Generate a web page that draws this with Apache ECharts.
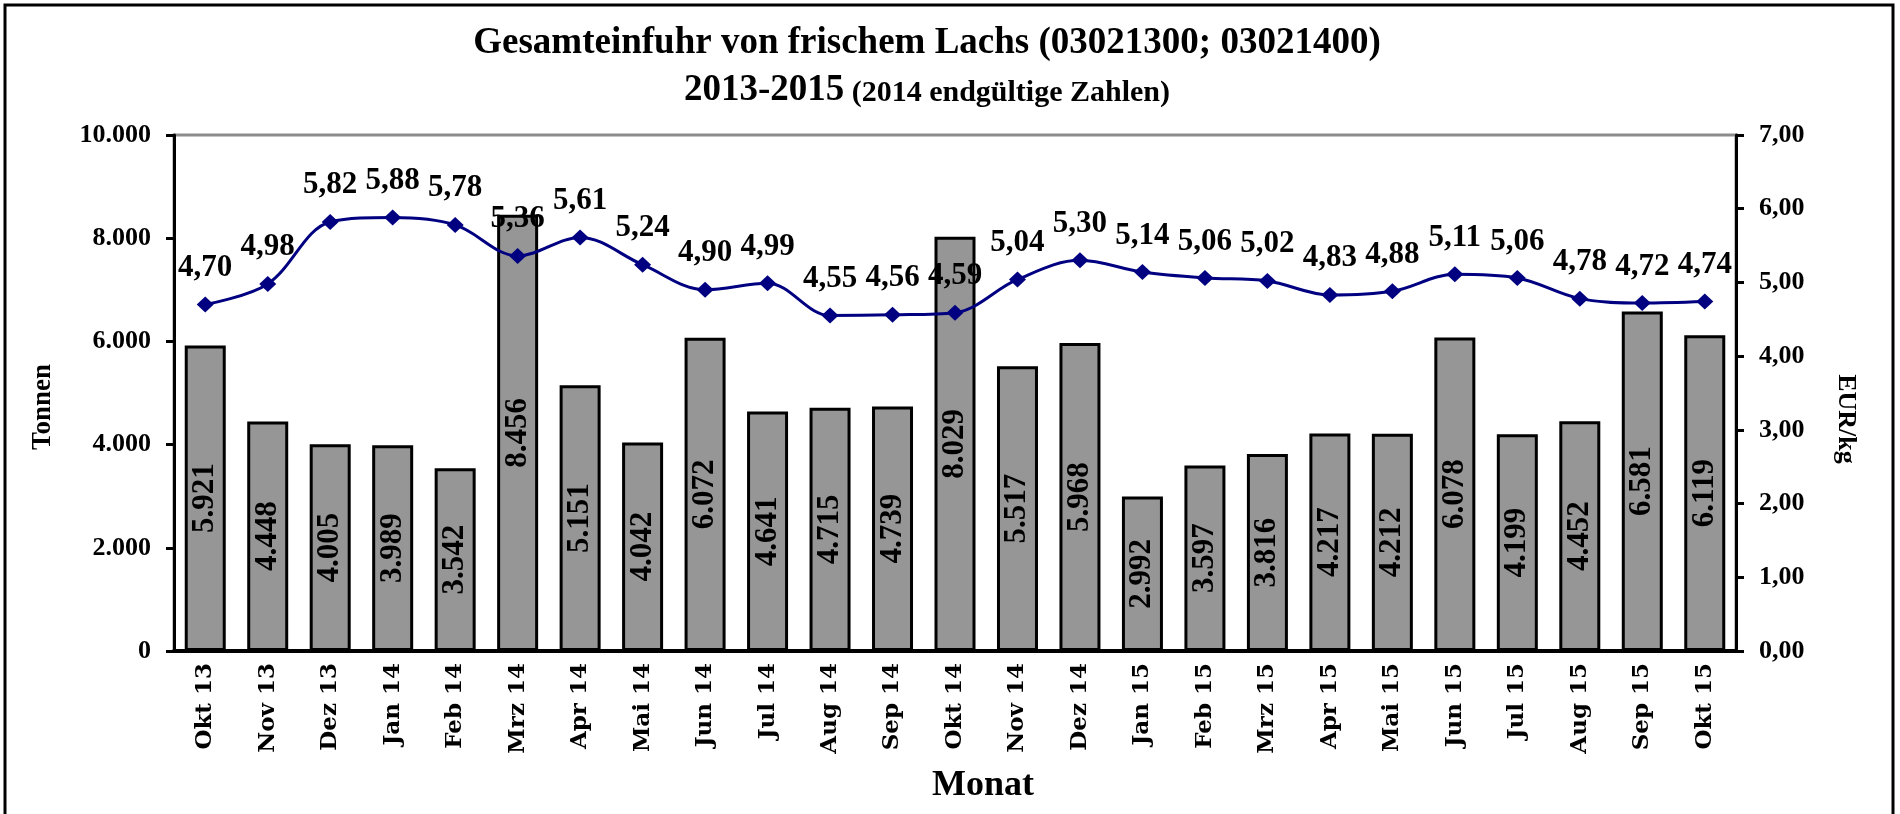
<!DOCTYPE html>
<html>
<head>
<meta charset="utf-8">
<title>Gesamteinfuhr von frischem Lachs</title>
<script src="https://cdn.jsdelivr.net/npm/echarts@6/dist/echarts.min.js"></script>
<style>
  html, body { margin: 0; padding: 0; background: #fff; }
  #chart { width: 1900px; height: 814px; }
</style>
</head>
<body>
<div id="chart"></div>
<script>
// Monate Okt 13 - Okt 15
var monate = ['Okt 13', 'Nov 13', 'Dez 13', 'Jan 14', 'Feb 14', 'Mrz 14', 'Apr 14', 'Mai 14', 'Jun 14', 'Jul 14', 'Aug 14', 'Sep 14', 'Okt 14', 'Nov 14', 'Dez 14', 'Jan 15', 'Feb 15', 'Mrz 15', 'Apr 15', 'Mai 15', 'Jun 15', 'Jul 15', 'Aug 15', 'Sep 15', 'Okt 15'];
// Einfuhr in Tonnen (Balken)
var tonnen = [5921, 4448, 4005, 3989, 3542, 8456, 5151, 4042, 6072, 4641, 4715, 4739, 8029, 5517, 5968, 2992, 3597, 3816, 4217, 4212, 6078, 4199, 4452, 6581, 6119];
// Preis in EUR/kg (Linie)
var preis = [4.70, 4.98, 5.82, 5.88, 5.78, 5.36, 5.61, 5.24, 4.90, 4.99, 4.55, 4.56, 4.59, 5.04, 5.30, 5.14, 5.06, 5.02, 4.83, 4.88, 5.11, 5.06, 4.78, 4.72, 4.74];

var serif = '"Liberation Serif", "Times New Roman", serif';

// 5921 -> "5.921"
function tausend(v) {
  return String(v).replace(/\B(?=(\d{3})+(?!\d))/g, '.');
}
// 4.7 -> "4,70"
function komma(v) {
  return Number(v).toFixed(2).replace('.', ',');
}

var chart = echarts.init(document.getElementById('chart'), null, { renderer: 'canvas' });

chart.setOption({
  animation: false,
  backgroundColor: '#fff',
  textStyle: { fontFamily: serif },
  graphic: [
    {
      type: 'rect',
      shape: { x: 5, y: 5, width: 1888, height: 830 },
      style: { fill: 'none', stroke: '#000', lineWidth: 3 },
      silent: true
    },
    {
      type: 'text',
      x: 927, y: 43,
      style: {
        text: 'Gesamteinfuhr von frischem Lachs (03021300; 03021400)',
        font: 'bold 37px ' + serif,
        fill: '#000',
        align: 'center',
        verticalAlign: 'middle'
      }
    },
    {
      type: 'text',
      x: 927, y: 90,
      style: {
        text: '{a|2013-2015} {b|(2014 endgültige Zahlen)}',
        align: 'center',
        verticalAlign: 'middle',
        rich: {
          a: { font: 'bold 37px ' + serif, fill: '#000', verticalAlign: 'bottom' },
          b: { font: 'bold 30px ' + serif, fill: '#000', verticalAlign: 'bottom', padding: [0, 0, 0, 4] }
        }
      }
    }
  ],
  grid: {
    left: 174,
    right: 164,
    top: 135,
    bottom: 163,
    show: true,
    borderColor: '#8c8c8c',
    borderWidth: 3,
    backgroundColor: 'transparent'
  },
  xAxis: {
    type: 'category',
    data: monate,
    name: 'Monat',
    nameLocation: 'middle',
    nameGap: 117,
    nameTextStyle: { fontFamily: serif, fontWeight: 'bold', fontSize: 36, color: '#000', padding: [0, 0, 0, 56] },
    axisLine: { lineStyle: { color: '#000', width: 4 } },
    axisTick: { show: false },
    axisLabel: {
      rotate: 90,
      margin: 12,
      interval: 0,
      fontFamily: '"DejaVu Serif", serif',
      fontWeight: 'bold',
      fontSize: 23,
      color: '#000'
    }
  },
  yAxis: [
    {
      type: 'value',
      min: 0,
      max: 10000,
      interval: 2000,
      name: 'Tonnen',
      nameLocation: 'middle',
      nameGap: 117,
      nameTextStyle: { fontFamily: serif, fontWeight: 'bold', fontSize: 27, color: '#000', padding: [0, 28, 0, 0] },
      axisLine: { show: true, lineStyle: { color: '#000', width: 3 } },
      axisTick: { show: true, length: 8, lineStyle: { color: '#000', width: 3 } },
      axisLabel: {
        margin: 23,
        fontFamily: serif,
        fontWeight: 'bold',
        fontSize: 26,
        color: '#000',
        formatter: function (v) { return tausend(v); }
      },
      splitLine: { show: false }
    },
    {
      type: 'value',
      min: 0,
      max: 7,
      interval: 1,
      position: 'right',
      name: 'EUR/kg',
      nameLocation: 'middle',
      nameGap: 97,
      nameRotate: -90,
      nameTextStyle: { fontFamily: serif, fontWeight: 'bold', fontSize: 26, color: '#000', padding: [0, 0, 0, 52] },
      axisLine: { show: true, lineStyle: { color: '#000', width: 3 } },
      axisTick: { show: true, length: 8, lineStyle: { color: '#000', width: 3 } },
      axisLabel: {
        margin: 23,
        fontFamily: serif,
        fontWeight: 'bold',
        fontSize: 26,
        color: '#000',
        formatter: function (v) { return komma(v); }
      },
      splitLine: { show: false }
    }
  ],
  series: [
    {
      name: 'Tonnen',
      type: 'bar',
      data: tonnen,
      barWidth: 41,
      itemStyle: { color: '#969696', borderColor: '#000', borderWidth: 3 },
      label: {
        show: true,
        position: 'inside',
        rotate: 90,
        fontFamily: serif,
        fontWeight: 'bold',
        fontSize: 31,
        color: '#000',
        formatter: function (p) { return tausend(p.value); }
      }
    },
    {
      name: 'EUR/kg',
      type: 'line',
      yAxisIndex: 1,
      data: preis,
      smooth: 0.35,
      symbol: 'diamond',
      symbolSize: [17, 16],
      lineStyle: { color: '#000080', width: 3 },
      itemStyle: { color: '#000080' },
      label: {
        show: true,
        position: 'top',
        distance: 13,
        fontFamily: serif,
        fontWeight: 'bold',
        fontSize: 31,
        color: '#000',
        formatter: function (p) { return komma(p.value); }
      }
    }
  ]
});
</script>
</body>
</html>
